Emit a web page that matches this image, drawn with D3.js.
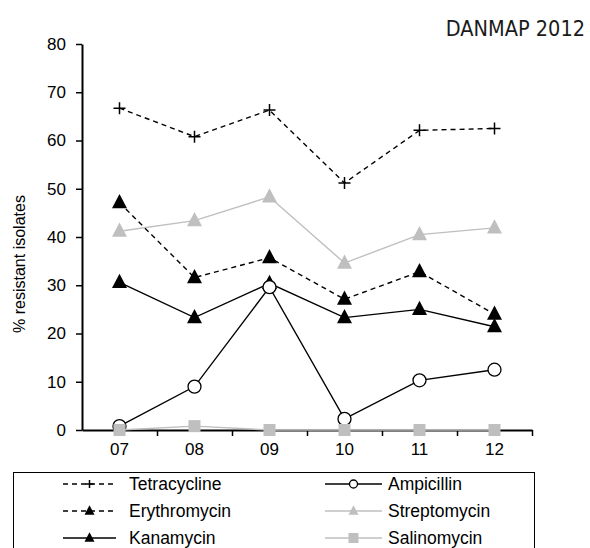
<!DOCTYPE html>
<html>
<head>
<meta charset="utf-8">
<script src="https://cdn.jsdelivr.net/npm/d3@7"></script>
<style>
  body { margin: 0; background: #fff; }
  svg { display: block; }
  text { font-family: "Liberation Sans", Arial, sans-serif; }
</style>
</head>
<body>
<div id="container"></div>
<script>
let w = 590;
let h = 548;

// DATA
let years = ["07", "08", "09", "10", "11", "12"];
let tetracycline = [66.7, 60.8, 66.3, 51.2, 62.1, 62.5];
let erythromycin = [47.1, 31.6, 35.7, 27.1, 32.8, 24.0];
let streptomycin = [41.2, 43.4, 48.3, 34.6, 40.5, 41.9];
let kanamycin = [30.6, 23.3, 30.4, 23.3, 25.0, 21.4];
let ampicillin = [0.8, 9.0, 29.6, 2.3, 10.3, 12.5];
let salinomycin = [0, 0.8, 0, 0, 0, 0];
let yTicks = [0, 10, 20, 30, 40, 50, 60, 70, 80];

let grey = "#bfbfbf";

// series styling (draw order)
let series = [
  {name: "Tetracycline", values: tetracycline, color: "#000", dash: "5,4", marker: "plus", fill: "none"},
  {name: "Streptomycin", values: streptomycin, color: grey, dash: null, marker: "tri", fill: grey},
  {name: "Erythromycin", values: erythromycin, color: "#000", dash: "5,4", marker: "tri", fill: "#000"},
  {name: "Kanamycin", values: kanamycin, color: "#000", dash: null, marker: "tri", fill: "#000"},
  {name: "Ampicillin", values: ampicillin, color: "#000", dash: null, marker: "circle", fill: "#fff"},
  {name: "Salinomycin", values: salinomycin, color: grey, dash: null, marker: "square", fill: grey}
];

let viz = d3.select("#container").append("svg")
    .attr("width", w)
    .attr("height", h);

// SCALES
let xScale = d3.scaleBand().domain(years).range([82, 532]);
let xEdge = d3.scaleLinear().domain([0, years.length]).range([82, 532]);
let yScale = d3.scaleLinear().domain([0, 80]).range([430, 44]);

// title
viz.append("text")
    .attr("x", 585)
    .attr("y", 36)
    .attr("text-anchor", "end")
    .style("font-family", "'DejaVu Sans Condensed', 'DejaVu Sans', sans-serif")
    .style("font-size", "21.5px")
    .style("fill", "#1a1a1a")
    .text("DANMAP 2012");

// y axis
let yAxis = d3.axisLeft(yScale).tickValues(yTicks).tickSize(6).tickSizeOuter(0).tickPadding(10);
let yG = viz.append("g").attr("transform", "translate(82,0)").call(yAxis);
yG.select(".domain").attr("stroke-width", 2);
yG.selectAll(".tick line").attr("stroke-width", 1.5);
yG.selectAll(".tick text").style("font-size", "17px").style("font-family", "'Liberation Sans', Arial, sans-serif").attr("fill", "#000");

// x axis: boundary ticks
let xAxis = d3.axisBottom(xEdge).tickValues(d3.range(1, years.length + 1)).tickSize(6).tickSizeOuter(0).tickFormat("");
let xG = viz.append("g").attr("transform", "translate(0,430)").call(xAxis);
xG.select(".domain").attr("stroke-width", 2);
xG.selectAll(".tick line").attr("stroke-width", 1.5);

// x labels
let xLab = d3.axisBottom(xScale).tickSize(0).tickPadding(13);
let xL = viz.append("g").attr("transform", "translate(0,430)").call(xLab);
xL.select(".domain").remove();
xL.selectAll(".tick text").style("font-size", "17px").style("font-family", "'Liberation Sans', Arial, sans-serif").attr("fill", "#000");

// y label
viz.append("text")
    .attr("transform", "translate(25,264) rotate(-90)")
    .attr("text-anchor", "middle")
    .style("font-size", "16px")
    .text("% resistant isolates");

// markers
function drawMarker(g, type, cx, cy, s, d) {
  if (type == "plus") {
    g.append("path")
      .attr("d", "M" + (cx - s) + "," + cy + "H" + (cx + s) + "M" + cx + "," + (cy - s) + "V" + (cy + s))
      .attr("stroke", d.color).attr("stroke-width", 1.5).attr("fill", "none");
  } else if (type == "tri") {
    g.append("path")
      .attr("d", "M" + cx + "," + (cy - s * 1.15) + "L" + (cx + s) + "," + (cy + s * 0.75) + "L" + (cx - s) + "," + (cy + s * 0.75) + "Z")
      .attr("fill", d.fill);
  } else if (type == "circle") {
    g.append("circle").attr("cx", cx).attr("cy", cy).attr("r", s)
      .attr("fill", d.fill).attr("stroke", d.color).attr("stroke-width", 1.3);
  } else if (type == "square") {
    g.append("rect").attr("x", cx - s).attr("y", cy - s).attr("width", 2 * s).attr("height", 2 * s)
      .attr("fill", d.fill);
  }
}

let lineMaker = d3.line()
    .x(function(d, i){ return xScale(years[i]) + xScale.bandwidth() / 2; })
    .y(function(d){ return yScale(d); });

let sizes = {plus: 6, tri: 7.5, circle: 6.5, square: 6};

series.forEach(function(s){
  let g = viz.append("g");
  g.append("path")
    .attr("d", lineMaker(s.values))
    .attr("fill", "none")
    .attr("stroke", s.color)
    .attr("stroke-width", 1.4)
    .attr("stroke-dasharray", s.dash);
  s.values.forEach(function(v, i){
    drawMarker(g, s.marker, xScale(years[i]) + xScale.bandwidth() / 2, yScale(v), sizes[s.marker], s);
  });
});

// LEGEND
viz.append("rect")
    .attr("x", 13.5).attr("y", 472.5)
    .attr("width", 521).attr("height", 90)
    .attr("fill", "#fff").attr("stroke", "#000").attr("stroke-width", 1);

let legendOrder = ["Tetracycline", "Ampicillin", "Erythromycin", "Streptomycin", "Kanamycin", "Salinomycin"];
let legSizes = {plus: 4, tri: 5, circle: 4, square: 5};
legendOrder.forEach(function(name, i){
  let s = series.find(function(d){ return d.name == name; });
  let col = i % 2;
  let row = Math.floor(i / 2);
  let x0 = col == 0 ? 63 : 325;
  let x1 = col == 0 ? 116 : 382;
  let tx = col == 0 ? 129 : 388;
  let cy = 484 + row * 27;
  let g = viz.append("g");
  g.append("line")
    .attr("x1", x0).attr("x2", x1).attr("y1", cy).attr("y2", cy)
    .attr("stroke", s.color).attr("stroke-width", 1.4)
    .attr("stroke-dasharray", s.dash);
  drawMarker(g, s.marker, (x0 + x1) / 2, cy, legSizes[s.marker], s);
  g.append("text")
    .attr("x", tx).attr("y", cy + 6)
    .style("font-size", "17.5px")
    .text(name);
});
</script>
</body>
</html>
